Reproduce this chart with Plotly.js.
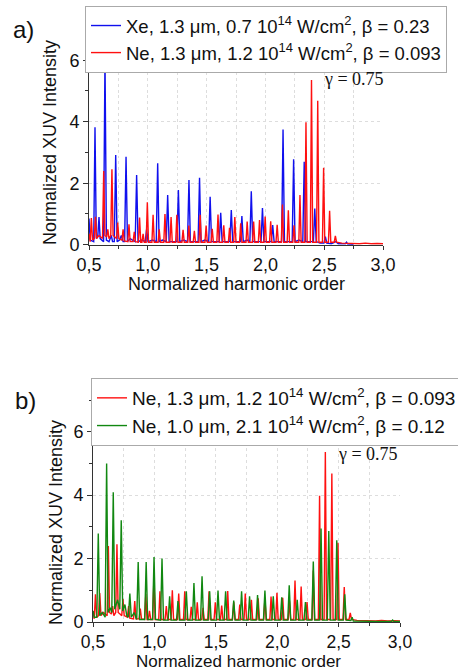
<!DOCTYPE html>
<html>
<head>
<meta charset="utf-8">
<script src="https://cdn.plot.ly/plotly-3.0.1.min.js"></script>
<style>html,body{margin:0;padding:0;background:#fff;}#chart{width:458px;height:672px;}</style>
</head>
<body>
<div id="chart"></div>
<script>
// ---- Data ----
// Xe, 1.3 um, 0.7e14 W/cm2 (panel a)
const xeX = [0.500,0.510,0.540,0.551,0.562,0.575,0.585,0.595,0.624,0.636,0.648,0.670,0.690,0.700,0.715,0.727,0.739,0.760,0.775,0.790,0.803,0.815,0.827,0.850,0.870,0.893,0.905,0.917,0.950,0.978,0.990,1.002,1.040,1.072,1.084,1.096,1.125,1.157,1.169,1.181,1.215,1.248,1.260,1.272,1.305,1.338,1.350,1.362,1.395,1.428,1.440,1.452,1.485,1.518,1.530,1.542,1.575,1.608,1.620,1.632,1.665,1.698,1.710,1.722,1.755,1.788,1.800,1.812,1.845,1.868,1.880,1.892,1.925,1.963,1.975,1.987,2.020,2.050,2.062,2.074,2.110,2.138,2.150,2.162,2.195,2.228,2.240,2.252,2.285,2.318,2.330,2.342,2.375,2.408,2.420,2.432,2.465,2.498,2.510,2.522,2.560,2.600,2.620,2.680,2.690,2.700,2.750];
const xeY = [0.85,0.15,0.10,3.82,0.20,0.30,0.90,0.20,0.10,6.10,0.15,0.10,0.30,0.10,0.10,2.92,0.10,0.15,0.30,0.10,0.10,2.86,0.10,0.20,0.15,0.10,2.27,0.10,0.15,0.10,0.50,0.10,0.15,0.10,2.65,0.10,0.15,0.10,1.62,0.10,0.10,0.10,1.78,0.10,0.15,0.10,2.10,0.10,0.10,0.10,2.18,0.10,0.15,0.10,1.56,0.10,0.10,0.10,1.04,0.10,0.10,0.10,1.13,0.10,0.10,0.10,0.93,0.10,0.15,0.10,1.74,0.10,0.10,0.10,1.19,0.10,0.10,0.10,0.64,0.10,0.10,0.10,3.75,0.10,0.10,0.10,2.78,0.10,0.15,0.10,2.70,0.10,0.10,0.10,1.18,0.10,0.05,0.05,0.26,0.05,0.03,0.10,0.03,0.03,0.08,0.02,0.01];

// Ne, 1.3 um, 1.2e14 W/cm2 (panels a and b)
const neX = [0.500,0.510,0.520,0.530,0.545,0.555,0.565,0.585,0.600,0.615,0.625,0.635,0.650,0.660,0.670,0.685,0.695,0.705,0.720,0.734,0.744,0.754,0.780,0.790,0.800,0.830,0.840,0.850,0.875,0.885,0.895,0.920,0.930,0.940,0.950,0.960,0.970,0.986,0.996,1.006,1.035,1.045,1.055,1.087,1.097,1.107,1.136,1.146,1.156,1.188,1.198,1.208,1.237,1.247,1.257,1.290,1.300,1.310,1.339,1.349,1.359,1.386,1.396,1.406,1.435,1.445,1.455,1.486,1.496,1.506,1.538,1.548,1.558,1.587,1.597,1.607,1.636,1.646,1.656,1.685,1.695,1.705,1.730,1.740,1.750,1.780,1.790,1.800,1.835,1.845,1.855,1.890,1.900,1.910,1.940,1.950,1.960,1.988,1.998,2.008,2.035,2.045,2.055,2.090,2.100,2.110,2.135,2.145,2.155,2.185,2.195,2.205,2.233,2.243,2.253,2.284,2.294,2.304,2.335,2.345,2.355,2.382,2.392,2.402,2.435,2.445,2.455,2.485,2.495,2.505,2.536,2.546,2.556,2.585,2.595,2.605,2.650,2.700,2.750,2.800,2.850,2.900,2.950,3.000];
const neY = [0.35,0.10,0.87,0.15,0.20,0.91,0.20,0.30,0.25,0.20,2.40,0.30,0.25,0.50,0.20,0.30,2.45,0.30,0.25,0.20,0.72,0.20,0.15,0.50,0.12,0.10,0.66,0.10,0.10,0.42,0.10,0.08,0.88,0.08,0.08,0.35,0.08,0.08,1.38,0.08,0.08,0.97,0.08,0.08,0.50,0.08,0.08,1.00,0.08,0.08,0.90,0.08,0.08,0.97,0.08,0.08,0.48,0.08,0.08,0.62,0.08,0.08,0.45,0.08,0.08,0.97,0.08,0.08,0.62,0.08,0.08,0.52,0.08,0.08,0.98,0.08,0.08,0.63,0.08,0.08,0.55,0.08,0.08,0.90,0.08,0.08,0.70,0.08,0.08,0.75,0.08,0.08,0.75,0.08,0.08,0.80,0.08,0.08,0.92,0.08,0.08,0.76,0.08,0.08,0.65,0.08,0.08,1.31,0.08,0.08,1.12,0.08,0.08,0.63,0.08,0.08,1.62,0.08,0.08,3.98,0.08,0.08,5.36,0.08,0.08,4.68,0.08,0.08,2.50,0.08,0.08,1.10,0.08,0.08,0.29,0.08,0.05,0.04,0.05,0.03,0.05,0.03,0.04,0.03];

// Ne, 1.0 um, 2.1e14 W/cm2 (panel b)
const ne10X = [0.500,0.510,0.531,0.543,0.555,0.575,0.599,0.611,0.623,0.640,0.653,0.665,0.677,0.700,0.718,0.730,0.742,0.760,0.775,0.788,0.800,0.812,0.835,0.856,0.868,0.880,0.921,0.933,0.945,0.985,0.997,1.009,1.050,1.062,1.074,1.112,1.124,1.136,1.180,1.192,1.204,1.248,1.260,1.272,1.310,1.322,1.334,1.376,1.388,1.400,1.438,1.450,1.462,1.506,1.518,1.530,1.568,1.580,1.592,1.634,1.646,1.658,1.698,1.710,1.722,1.763,1.775,1.787,1.828,1.840,1.852,1.888,1.900,1.912,1.956,1.968,1.980,2.025,2.037,2.049,2.086,2.098,2.110,2.151,2.163,2.175,2.218,2.230,2.242,2.282,2.294,2.306,2.345,2.357,2.369,2.408,2.420,2.432,2.473,2.485,2.497,2.538,2.550,2.562,2.600,2.610,2.620,2.700,2.800,2.900,2.930,2.940,2.950,3.000];
const ne10Y = [0.35,0.15,0.15,2.79,0.20,0.30,0.15,5.00,0.30,0.45,0.30,4.09,0.40,0.70,0.40,3.21,0.35,0.55,0.20,0.15,0.90,0.15,0.30,0.08,1.89,0.08,0.08,1.89,0.08,0.08,2.05,0.08,0.06,2.00,0.06,0.06,0.81,0.06,0.06,0.66,0.06,0.06,0.97,0.06,0.06,1.23,0.06,0.06,1.44,0.06,0.06,0.97,0.06,0.06,0.99,0.06,0.06,0.97,0.06,0.06,0.68,0.06,0.06,0.97,0.06,0.06,0.81,0.06,0.06,0.85,0.06,0.06,0.99,0.06,0.06,0.81,0.06,0.06,0.78,0.06,0.06,1.16,0.06,0.06,0.70,0.06,0.06,0.63,0.06,0.06,1.91,0.06,0.06,2.95,0.06,0.06,2.87,0.06,0.06,2.58,0.06,0.06,0.87,0.06,0.05,0.15,0.03,0.02,0.02,0.02,0.02,0.06,0.02,0.02];

const nameXe   = 'Xe, 1.3 μm, 0.7 10<sup>14</sup> W/cm<sup>2</sup>, β = 0.23';
const nameNe13 = 'Ne, 1.3 μm, 1.2 10<sup>14</sup> W/cm<sup>2</sup>, β = 0.093';
const nameNe10 = 'Ne, 1.0 μm, 2.1 10<sup>14</sup> W/cm<sup>2</sup>, β = 0.12';
const xTickVals = [0.5, 1.0, 1.5, 2.0, 2.5, 3.0];
const xTickText = ['0,5', '1,0', '1,5', '2,0', '2,5', '3,0'];
const yTickVals = [0, 2, 4, 6];

const FONT = 'Liberation Sans, Arial, sans-serif';
const SERIF = 'Liberation Serif, Times New Roman, serif';
const W = 458, H = 672;
const px = v => v / W;
const py = v => 1 - v / H;

const traces = [
  {x: xeX, y: xeY, name: nameXe, type: 'scatter', mode: 'lines',
   line: {color: '#1010ee', width: 1.4}, xaxis: 'x', yaxis: 'y', legend: 'legend'},
  {x: neX, y: neY, name: nameNe13, type: 'scatter', mode: 'lines',
   line: {color: '#ff1010', width: 1.4}, xaxis: 'x', yaxis: 'y', legend: 'legend'},
  {x: neX, y: neY, name: nameNe13, type: 'scatter', mode: 'lines',
   line: {color: '#ff1010', width: 1.4}, xaxis: 'x2', yaxis: 'y2', legend: 'legend2'},
  {x: ne10X, y: ne10Y, name: nameNe10, type: 'scatter', mode: 'lines',
   line: {color: '#118811', width: 1.4}, xaxis: 'x2', yaxis: 'y2', legend: 'legend2'}
];

function xAxis(domain, anchor, fs) {
  return {
    domain: domain, anchor: anchor, range: [0.5, 3.0],
    tickvals: xTickVals, ticktext: xTickText,
    ticks: 'outside', ticklen: 4, tickwidth: 1, tickcolor: '#333',
    showline: true, linecolor: '#333', linewidth: 1,
    showgrid: true, gridcolor: '#dddddd', griddash: 'dot', gridwidth: 1,
    zeroline: false,
    minor: {dtick: 0.25, tick0: 0.5, ticks: 'outside', ticklen: 3, tickcolor: '#333',
            showgrid: true, gridcolor: '#dddddd', griddash: 'dot'},
    tickfont: {family: FONT, size: fs, color: '#111'}
  };
}
function yAxis(domain, anchor) {
  return {
    domain: domain, anchor: anchor, range: [0, 7],
    tickvals: yTickVals,
    ticks: 'outside', ticklen: 5, tickwidth: 1, tickcolor: '#333',
    showline: true, linecolor: '#333', linewidth: 1,
    showgrid: true, gridcolor: '#dddddd', griddash: 'dot', gridwidth: 1,
    zeroline: false,
    minor: {dtick: 1, tick0: 0, ticks: 'outside', ticklen: 3, tickcolor: '#333', showgrid: false},
    tickfont: {family: FONT, size: 18, color: '#111'}
  };
}

const legendBase = {
  xanchor: 'left', yanchor: 'top', orientation: 'v',
  bgcolor: '#ffffff', bordercolor: '#aaaaaa', borderwidth: 1,
  tracegroupgap: 0, itemwidth: 30
};

function note(text, x, y, size, family, angle) {
  return {text: text, x: px(x), y: py(y), xref: 'paper', yref: 'paper',
          xanchor: 'center', yanchor: 'middle', showarrow: false,
          textangle: angle || 0, font: {family: family || FONT, size: size, color: '#111'}};
}

const layout = {
  width: W, height: H,
  margin: {l: 0, r: 0, t: 0, b: 0, autoexpand: false},
  paper_bgcolor: '#ffffff', plot_bgcolor: '#ffffff',
  font: {family: FONT, size: 18, color: '#111'},
  showlegend: true,
  xaxis: xAxis([px(89), px(383)], 'y', 18),
  yaxis: yAxis([py(244.7), py(29.5)], 'x'),
  xaxis2: xAxis([px(93), px(400)], 'y2', 17.5),
  yaxis2: yAxis([py(622), py(400)], 'x2'),
  legend: Object.assign({}, legendBase, {x: px(85), y: py(6),
    font: {family: FONT, size: 18.5, color: '#111'}}),
  legend2: Object.assign({}, legendBase, {x: px(91), y: py(378),
    font: {family: FONT, size: 19, color: '#111'}}),
  annotations: [
    note('a)', 23, 30, 24),
    note('b)', 25, 400, 24),
    note('γ = 0.75', 354, 79, 18, SERIF),
    note('γ = 0.75', 368, 454, 18, SERIF),
    note('Normalized XUV Intensity', 50, 143, 18, FONT, -90),
    note('Normalized XUV Intensity', 56, 523, 18, FONT, -90),
    note('Normalized harmonic order', 236, 284, 18),
    note('Normalized harmonic order', 238, 661, 17)
  ]
};

Plotly.newPlot('chart', traces, layout, {staticPlot: true, displayModeBar: false});
</script>
</body>
</html>
